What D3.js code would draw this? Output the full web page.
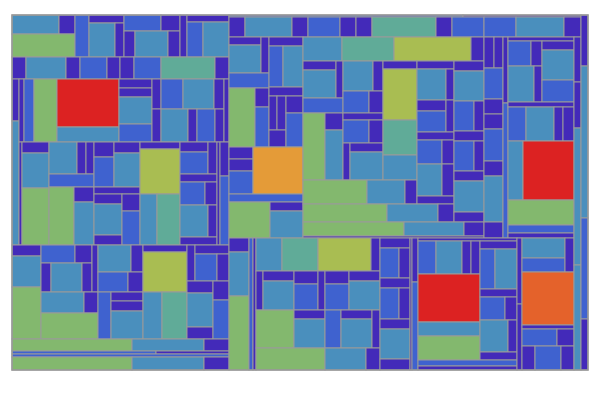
<!DOCTYPE html>
<html>
<head>
<meta charset="utf-8">
<script src="https://cdn.jsdelivr.net/npm/d3@7"></script>
<style>
    body { margin: 0; background: #fff; }
    .cell { stroke: #999; stroke-width: 1; }
</style>
</head>
<body>
<div id="chart"></div>
<script>

/*
 *  Treemap data - every group is ["h" | "v", children...], leaves are values.
 *  "h" = children side by side, "v" = children stacked.
 */

// left half
var leftTop = ["h",
    ["v", ["h", 893, 304], 1449],
    588,
    ["v", 280, ["h", 884, 306]],
    ["v", ["h", 592, 304], ["h", 286, 858, 312]],
    ["h", 294, ["v", 294, ["h", 560, 910]]]
];
var leftRow2 = ["h", 308, 880, 308, 594, 286, 308, 594, 1188, 308];
var leftCol = ["v", 294, 868];
var leftRow3 = ["h", 315, 630, 1449, ["v", 2976, 930], ["v", 297, 297, 891, 594],
    ["h", ["v", ["h", 270, 660, 930, 300], ["h", 297, 891, 297, 594, 297]], 315]
];
var leftRow4 = ["h", 309,
    ["v", 297, 945, 1539],
    ["v", ["h", 896, 288, 256], 585, ["h", 1450, ["v", 300, 860]]],
    ["v", ["h", ["v", 300, 600], ["v", 286, 884]], 322, ["h", ["v", 280, 868, 280], ["v", 306, 612]]],
    ["v", 280, 1800, ["h", 867, 1173]],
    ["h", ["v", ["h", ["v", 280, 616], 288], 296, ["h", 575, 276], ["h", 896, 288], 296], 309, ["v", 306, 621]]
];
var leftRow5 = ["h",
    ["v", 319, 899, 1508],
    ["v", ["h", ["v", ["h", 612, 306], ["h", 290, 899, 290]], 282], ["h", 903, 294], 1482],
    ["v", ["h", 891, 324], ["h", 600, 300], ["h", 611, ["v", 288, 320, 896]]],
    ["v", 308, 1760, ["h", 893, 1175]],
    ["v", ["h", 288, ["v", 306, ["h", 594, 324]]], ["h", ["v", 312, 884, 312], ["v", 304, 624]]]
];
var leftBottom = ["v", ["h", 1440, 864, 300], ["h", 432, 219], 651, ["h", 1560, 936, 325]];

// right half, upper part
var rightStrip = ["h", 468, 236];
var rightRow1 = ["h", 320, 940, 320, 640, 320, 320, 1280, 320, 640, 640, 960, 340];
var blockA = ["v",
    ["h", ["v", ["h", ["v", 256, 896], 288], 600, ["h", 1534, ["v", 266, 560]]],
          ["v", 306, ["h", 574, 820], 306, ["h", ["v", ["h", 272, 306], 289], ["v", 289, 578]]]],
    ["h", ["v", 288, 288, 552], 2350],
    592,
    ["h", 1476, ["v", 297, 891]]
];
var blockBTop = ["h", 936, 1248, 1848, 312];
var blockBCol1 = ["v", ["h", ["v", 297, 924], 259], 600, ["h", 1474, ["v", 306, 900]]];
var blockBCol2 = ["v", ["h", 900, 300], ["h", 572, 308], 280, ["h", 598, 322], ["h", 259, ["v", 297, 924]]];
var blockBCol3 = ["v", 272, 1734, 1190, 850];
var blockBCol4 = ["v", 296, ["h", ["v", 899, 319, 609], ["v", 248, 256]], 296, ["h", 600, 288], ["h", 800, 384], 296];
var blockBCol5 = ["v", 300, 900, ["h", 600, 300], 300, ["h", 600, 300], 300, 930, 300];
var blockBStrips = [["h", 1536, 912, 288], ["h", 1512, 918, 288], ["h", 1414, 840, 280], 362];
var blockB2 = ["h", ["v", ["h", 310, 279], 589, 285, 285, 589, 285, 874, 304], ["v", 330, 670]];
var blockC = ["v", 264,
    ["h", ["v", ["h", 575, 275], ["h", 910, 280]], ["v", 288, 960, 672]],
    380, ["h", 594, 924, 297, 363], ["h", 885, 3009], 1584, 528, 330
];

// right half, lower part
var blockD = ["v", 280, 880, 1480];
var blockE = ["v",
    ["h", 858, 1188, 1749, 297],
    ["h", 273, ["v", 310, 899], ["v", 312, 624], 273, ["v", 312, 624], ["v", 310, 899]],
    ["h", 1444, ["v", 279, 899], 608, ["v", 279, 899], 304],
    ["h", 1518, 902, 308]
];
var blockF = ["v", 300, ["h", 570, 330], 300, ["h", 589, 341], 300, 900, 330];
var blockG = ["h", 264, ["v", 264, 528]];
var blockH = ["v", 297,
    ["h", ["v", ["h", 594, 858, 297, 297], 2976, 868, 1488],
          ["v", 296, ["h", 600, 880], 296, ["h", 575, 276], ["h", 896, 288], 296]],
    594, 396
];
var blockJ = ["v", 330, 330];
var blockK = ["v", ["h", ["v", 860, 602], 306], 2756, 208, ["h", 595, 289], ["h", 312, 624, 312]];
var rightColY = ["v", 329, 329, 1001, 760];
var rightColZ = ["v", 357, 1064, 707, 357];

// colour classes by value
var colorBreaks = [410, 740, 1120, 1350, 1680, 2100, 2600, 2850];
var colorRange = ["#432ab9", "#3f62cf", "#4a8fbd", "#60ab98", "#83b86e", "#a9bd52", "#e49b38", "#e4622b", "#dc2222"];


/*
 *  Assemble the tree
 */

var blockB = ["v", blockBTop,
    ["h",
        ["v",
            ["h",
                ["v", ["h", blockBCol1, blockBCol2, blockBCol3], blockBStrips[0]],
                blockBCol4],
            blockBStrips[1]],
        blockBCol5],
    blockBStrips[2], blockBStrips[3]
];
var leftHalf = ["v", leftTop, leftRow2, ["h", leftCol, ["v", leftRow3, leftRow4]], leftRow5, leftBottom];
var rightUpper = ["h", blockA, blockB, blockB2, blockC];
var rightLower = ["h", blockD, 528, 396, blockE, blockF, blockG, blockH, blockJ, blockK];
var rightHalf = ["h", ["v", rightStrip, rightRow1, ["h", ["v", rightUpper, rightLower], rightColY]], rightColZ];
var tree = ["h", leftHalf, rightHalf];


/*
 *  Draw
 */

var margin = { top: 15, right: 12, bottom: 32, left: 12 };
var width = 600 - margin.left - margin.right;
var height = 402 - margin.top - margin.bottom;

var svg = d3.select("#chart").append("svg")
    .attr("width", 600)
    .attr("height", 402)
    .append("g")
    .attr("transform", "translate(" + margin.left + "," + margin.top + ")");

var color = d3.scaleThreshold()
    .domain(colorBreaks)
    .range(colorRange);

var root = d3.hierarchy(tree, function(d) {
        return Array.isArray(d) ? d.slice(1) : null;
    })
    .sum(function(d) {
        return typeof d === "number" ? d : 0;
    });

d3.treemap()
    .size([width, height])
    .round(true)
    .tile(function(node, x0, y0, x1, y1) {
        if (node.data[0] === "h") {
            d3.treemapDice(node, x0, y0, x1, y1);
        } else {
            d3.treemapSlice(node, x0, y0, x1, y1);
        }
    })(root);

svg.selectAll(".cell")
    .data(root.leaves())
    .enter().append("rect")
    .attr("class", "cell")
    .attr("x", function(d) { return d.x0; })
    .attr("y", function(d) { return d.y0; })
    .attr("width", function(d) { return Math.max(0, d.x1 - d.x0); })
    .attr("height", function(d) { return Math.max(0, d.y1 - d.y0); })
    .attr("fill", function(d) { return color(d.value); });

svg.append("rect")
    .attr("width", width)
    .attr("height", height)
    .attr("fill", "none")
    .attr("stroke", "#999")
    .attr("stroke-width", 1.5);

</script>
</body>
</html>
